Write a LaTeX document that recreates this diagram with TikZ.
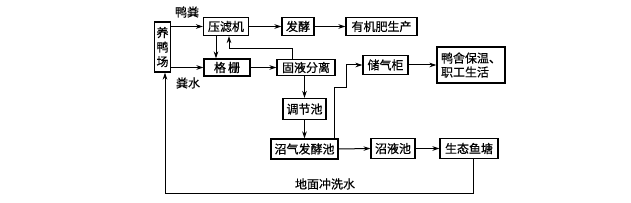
\documentclass[tikz,border=0pt]{standalone}
\usepackage{fontspec}
\setmainfont{Noto Sans CJK SC}[BoldFont={Noto Sans CJK SC},BoldFeatures={FakeBold=0.6}]
\usetikzlibrary{arrows.meta}
\begin{document}
\begin{tikzpicture}[x=1pt,y=-1pt,
 box/.style={draw, line width=1.1pt, inner sep=0pt, font=\fontsize{12}{14}\selectfont\bfseries},
 arr/.style={line width=1pt, -{Stealth[length=7pt,width=4.5pt]}},
 lbl/.style={inner sep=0pt, font=\fontsize{12}{14}\selectfont\bfseries}]
\useasboundingbox[fill=white] (0,0) rectangle (631,203);
\node[box, minimum width=16pt, minimum height=50pt, align=center, font=\fontsize{12}{14.5}\selectfont\bfseries] (yc) at (162.5,47) {养\\鸭\\场};
\node[box, minimum width=45pt, minimum height=18pt] (ylj) at (226,26.5) {压滤机};
\node[box, minimum width=32pt, minimum height=18pt] (fj) at (298,26.5) {发酵};
\node[box, minimum width=71pt, minimum height=18pt] (yjf) at (381.5,26.5) {有机肥生产};
\node[box, minimum width=46pt, minimum height=17pt] (gs) at (227,67.5) {格\,栅};
\node[box, minimum width=58pt, minimum height=16pt] (gyfl) at (306,67.5) {固液分离};
\node[box, minimum width=45pt, minimum height=19pt] (cqg) at (385.5,65) {储气柜};
\node[box, minimum width=68pt, minimum height=36pt, align=left] (ys) at (471,65) {鸭舍保温、\\职工生活};
\node[box, minimum width=43pt, minimum height=21pt] (tjc) at (304.5,109) {调节池};
\node[box, minimum width=67pt, minimum height=20pt] (zqfj) at (304.5,149) {沼气发酵池};
\node[box, minimum width=44pt, minimum height=20pt] (zyc) at (393,148.5) {沼液池};
\node[box, minimum width=58pt, minimum height=20pt] (styt) at (469,148.5) {生态鱼塘};
\node[lbl] (l1) at (187,12) {鸭粪};
\node[lbl] (l2) at (188,83) {粪水};
\node[lbl] (l3) at (325,184) {地面冲洗水};
\draw[arr] (yc.east |- ylj.west) -- (ylj.west);
\draw[arr] (yc.east |- gs.west) -- (gs.west);
\draw[arr] (ylj.east) -- (fj.west);
\draw[arr] (fj.east) -- (yjf.west);
\draw[arr] ([xshift=-10pt]ylj.south) -- ([xshift=-11pt]gs.north);
\draw[arr] ([xshift=-14pt]gyfl.north) -- ++(0,-10) -| ([xshift=3pt]ylj.south);
\draw[arr] (gs.east) -- (gyfl.west);
\draw[arr] (tjc.north |- gyfl.south) -- (tjc.north);
\draw[arr] (tjc.south) -- (zqfj.north);
\draw[arr] (zqfj.east) -- (zyc.west);
\draw[arr] (zyc.east) -- (styt.west);
\draw[arr] ([xshift=-4pt]zqfj.north east) -- ++(0,-51) -- ++(12,0) |- (cqg.west);
\draw[arr] (cqg.east) -- (ys.west);
\draw[arr] ([xshift=4pt]styt.south) -- ++(0,34.5) -| ([xshift=2.5pt]yc.south);
\end{tikzpicture}
\end{document}
